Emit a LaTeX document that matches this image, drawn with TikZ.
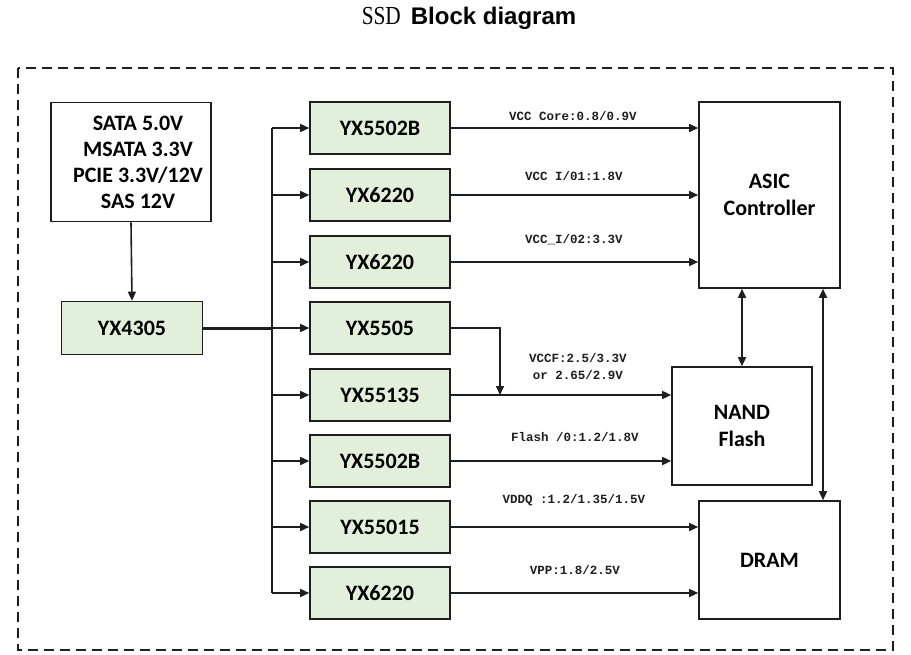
\documentclass[tikz,border=0pt]{standalone}
\usepackage{fontspec}
\setmainfont{Carlito}
\newfontfamily\monofont{Liberation Mono}
\newfontfamily\headfont{Liberation Sans}
\newfontfamily\ssdfont{Liberation Serif}
\usetikzlibrary{arrows.meta,positioning}
\definecolor{boxgreen}{RGB}{226,239,218}
\definecolor{lineblk}{RGB}{30,30,30}

\begin{document}
\begin{tikzpicture}[x=1pt,y=-1pt,
  gbox/.style={draw=lineblk,line width=1.6pt,fill=boxgreen,minimum width=140pt,minimum height=52pt,
    inner sep=0pt,font=\fontsize{22}{26}\selectfont\bfseries},
  wbox/.style={draw=lineblk,line width=1.6pt,fill=white,inner sep=0pt,align=center,
    font=\fontsize{22}{26.5}\selectfont\bfseries},
  arr/.style={-{Triangle[length=9pt,width=8pt]},line width=1.6pt,lineblk},
  darr/.style={{Triangle[length=9pt,width=8pt]}-{Triangle[length=9pt,width=8pt]},line width=1.6pt,lineblk},
  vlabel/.style={font=\monofont\bfseries\fontsize{12.5}{17}\selectfont,align=center,inner sep=0pt,text=lineblk}
]
  \useasboundingbox (0,0) rectangle (911,654);
  % Title and frame
  \node[inner sep=0pt] (title) at (469,18) {\scalebox{0.82}[1]{\ssdfont\fontsize{26}{30}\selectfont SSD}\hspace{10pt}{\headfont\fontsize{24}{28}\selectfont\bfseries Block diagram}};
  \draw[line width=1.4pt,lineblk,dash pattern=on 10pt off 6pt] (18,68) rectangle (893,650);
  % Input and main regulator
  \node[wbox,minimum width=160pt,minimum height=119pt,font=\fontsize{22}{26}\selectfont\bfseries] (src) at (131,162)
    {\hspace*{14pt}SATA 5.0V\\\hspace*{14pt}MSATA 3.3V\\\hspace*{14pt}PCIE 3.3V/12V\\\hspace*{14pt}SAS 12V};
  \node[gbox,minimum width=141pt,minimum height=53pt] (yx4305) at (132,328) {YX4305};
  % Regulators
  \node[gbox] (r1) at (380,128) {YX5502B};
  \node[gbox] (r2) at (380,195) {YX6220};
  \node[gbox] (r3) at (380,262) {YX6220};
  \node[gbox] (r4) at (380,328) {YX5505};
  \node[gbox] (r5) at (380,395) {YX55135};
  \node[gbox] (r6) at (380,461) {YX5502B};
  \node[gbox] (r7) at (380,527) {YX55015};
  \node[gbox] (r8) at (380,593) {YX6220};
  % Loads
  \node[wbox,minimum width=141pt,minimum height=186pt] (asic) at (769.5,195) {ASIC\\Controller};
  \node[wbox,minimum width=140pt,minimum height=118pt] (nand) at (742,426) {NAND\\Flash};
  \node[wbox,minimum width=141pt,minimum height=118pt] (dram) at (769.5,560) {DRAM};
  % Bus
  \coordinate (bt) at (272,128);
  \coordinate (bb) at (272,593);
  \coordinate (vj) at (500,395);
  \draw[arr] (src.south) -- (yx4305.north);
  \draw[line width=2pt,lineblk] (bt) -- (bb);
  \draw[line width=3pt,lineblk] (yx4305.east) -- (bt |- yx4305.east);
  \draw[arr] (bt |- r1.west) -- (r1.west);
  \draw[arr] (bt |- r2.west) -- (r2.west);
  \draw[arr] (bt |- r3.west) -- (r3.west);
  \draw[arr] (bt |- r4.west) -- (r4.west);
  \draw[arr] (bt |- r5.west) -- (r5.west);
  \draw[arr] (bt |- r6.west) -- (r6.west);
  \draw[arr] (bt |- r7.west) -- (r7.west);
  \draw[arr] (bt |- r8.west) -- (r8.west);
  % Rails
  \draw[arr] (r1.east) -- (r1.east -| asic.west);
  \draw[arr] (r2.east) -- (r2.east -| asic.west);
  \draw[arr] (r3.east) -- (r3.east -| asic.west);
  \draw[arr] (r4.east) -| (vj);
  \draw[arr] (r5.east) -- (r5.east -| nand.west);
  \draw[arr] (r6.east) -- (r6.east -| nand.west);
  \draw[arr] (r7.east) -- (r7.east -| dram.west);
  \draw[arr] (r8.east) -- (r8.east -| dram.west);
  \draw[darr] (nand.north) -- (nand.north |- asic.south);
  \draw[darr] ([xshift=53.5pt]asic.south) -- ([xshift=53.5pt]dram.north);
  % Rail labels
  \node[vlabel] (l1) at (573,116) {VCC Core:0.8/0.9V};
  \node[vlabel] (l2) at (574,176) {VCC I/01:1.8V};
  \node[vlabel] (l3) at (574,240) {VCC\_I/02:3.3V};
  \node[vlabel] (l4) at (578,367) {VCCF:2.5/3.3V\\or 2.65/2.9V};
  \node[vlabel] (l5) at (575,437) {Flash /0:1.2/1.8V};
  \node[vlabel] (l6) at (574,500) {VDDQ :1.2/1.35/1.5V};
  \node[vlabel] (l7) at (575,570) {VPP:1.8/2.5V};
\end{tikzpicture}
\end{document}
